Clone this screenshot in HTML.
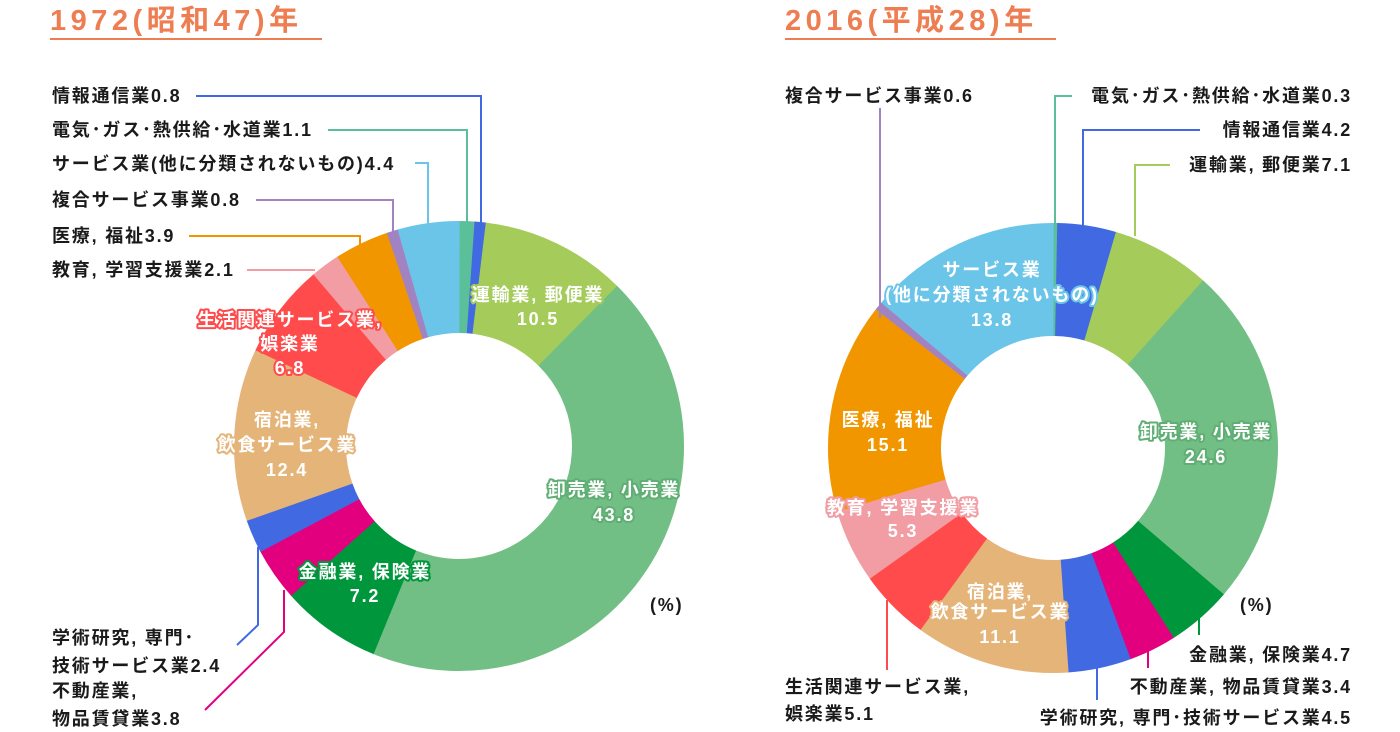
<!DOCTYPE html>
<html><head><meta charset="utf-8">
<style>
html,body{margin:0;padding:0;background:#fff;}
svg{display:block;font-family:"Liberation Sans","Noto Sans CJK JP",sans-serif;font-weight:bold;}
.t{font-size:18px;fill:#1a1a1a;letter-spacing:1.8px;}
.in{font-size:18px;fill:#fff;stroke-width:4px;paint-order:stroke;stroke-linejoin:round;text-anchor:middle;letter-spacing:1.8px;}
.ttl{font-size:29px;fill:#ef7d52;letter-spacing:4.5px;}
</style></head>
<body>
<svg id="s" width="1400" height="732" viewBox="0 0 1400 732">
<text class="ttl" x="50" y="30">1972(昭和47)年</text>
<line x1="50" y1="39" x2="322" y2="39" stroke="#ef7d52" stroke-width="2"/>
<text class="ttl" x="785" y="30">2016(平成28)年</text>
<line x1="785" y1="39" x2="1056" y2="39" stroke="#ef7d52" stroke-width="2"/>
<g id="g1"></g><g id="g2"></g>
<g fill="none" stroke-width="2">
<polyline points="196,96 481,96 481,228" stroke="#4169e1"/>
<polyline points="328,130 467,130 467,226" stroke="#5bbf9a"/>
<polyline points="415,163 428,163 428,224" stroke="#6bc5e8"/>
<polyline points="256,200 393,200 393,232" stroke="#a283c1"/>
<polyline points="189,236 360,236 360,246" stroke="#f29600"/>
<polyline points="247,270 315,270" stroke="#f29ca4"/>
<polyline points="258,547 258,625 237,645" stroke="#4169e1"/>
<polyline points="284,590 284,632 205,710" stroke="#e2007f"/>
<polyline points="880,108 880,318" stroke="#a283c1"/>
<polyline points="1072,96 1055,96 1055,223" stroke="#5bbf9a"/>
<polyline points="1200,130 1083,130 1083,226" stroke="#4169e1"/>
<polyline points="1170,165 1135,165 1135,236" stroke="#a5cc5a"/>
<polyline points="887,600 887,670" stroke="#ff4b4b"/>
<polyline points="1097,668 1097,700" stroke="#4169e1"/>
<polyline points="1148,640 1148,668" stroke="#e2007f"/>
<polyline points="1199,612 1199,635" stroke="#00963c"/>
</g>
<g class="t">
<text x="52" y="102">情報通信業0.8</text>
<text x="52" y="136">電気･ガス･熱供給･水道業1.1</text>
<text x="52" y="170">サービス業(他に分類されないもの)4.4</text>
<text x="52" y="206">複合サービス事業0.8</text>
<text x="52" y="242">医療, 福祉3.9</text>
<text x="52" y="276">教育, 学習支援業2.1</text>
<text x="52" y="644">学術研究, 専門･</text>
<text x="52" y="672">技術サービス業2.4</text>
<text x="52" y="697">不動産業,</text>
<text x="52" y="725">物品賃貸業3.8</text>
<text x="650" y="611">(%)</text>
<text x="785" y="102">複合サービス事業0.6</text>
<text x="1352" y="102" text-anchor="end">電気･ガス･熱供給･水道業0.3</text>
<text x="1352" y="136" text-anchor="end">情報通信業4.2</text>
<text x="1352" y="171" text-anchor="end">運輸業, 郵便業7.1</text>
<text x="1240" y="611">(%)</text>
<text x="1352" y="661" text-anchor="end">金融業, 保険業4.7</text>
<text x="1352" y="693" text-anchor="end">不動産業, 物品賃貸業3.4</text>
<text x="1352" y="724" text-anchor="end">学術研究, 専門･技術サービス業4.5</text>
<text x="785" y="693">生活関連サービス業,</text>
<text x="785" y="720">娯楽業5.1</text>
</g>
<g class="in">
<text x="538" y="301" stroke="#a5cc5a">運輸業, 郵便業</text>
<text x="538" y="325" stroke="#a5cc5a">10.5</text>
<text x="614" y="496" stroke="#5fae74">卸売業, 小売業</text>
<text x="614" y="521" stroke="#5fae74">43.8</text>
<text x="365" y="578" stroke="#00963c">金融業, 保険業</text>
<text x="365" y="602" stroke="#00963c">7.2</text>
<text x="290" y="326" stroke="#ff4b4b">生活関連サービス業,</text>
<text x="290" y="350" stroke="#ff4b4b">娯楽業</text>
<text x="290" y="374" stroke="#ff4b4b">6.8</text>
<text x="287" y="426" stroke="#e5b479">宿泊業,</text>
<text x="287" y="451" stroke="#e5b479">飲食サービス業</text>
<text x="287" y="476" stroke="#e5b479">12.4</text>
<text x="992" y="276" stroke="#6bc5e8">サービス業</text>
<text x="992" y="301" stroke="#6bc5e8">(他に分類されないもの)</text>
<text x="992" y="326" stroke="#6bc5e8">13.8</text>
<text x="888" y="426" stroke="#f29600">医療, 福祉</text>
<text x="888" y="451" stroke="#f29600">15.1</text>
<text x="1206" y="438" stroke="#5fae74">卸売業, 小売業</text>
<text x="1206" y="463" stroke="#5fae74">24.6</text>
<text x="903" y="514" stroke="#f29ca4">教育, 学習支援業</text>
<text x="903" y="537" stroke="#f29ca4">5.3</text>
<text x="1000" y="598" stroke="#e5b479">宿泊業,</text>
<text x="1000" y="618" stroke="#e5b479">飲食サービス業</text>
<text x="1000" y="643" stroke="#e5b479">11.1</text>
</g>
</svg>
<script>
var C={den:"#5bbf9a",jou:"#4169e1",un:"#a5cc5a",oro:"#72bf85",kin:"#00963c",fud:"#e2007f",gak:"#4169e1",shu:"#e5b479",sei:"#ff4b4b",kyo:"#f29ca4",iry:"#f29600",fuk:"#a283c1",sab:"#6bc5e8"};
var ord=["den","jou","un","oro","kin","fud","gak","shu","sei","kyo","iry","fuk","sab"];
function donut(id,cx,cy,R,r,vals){
 var g=document.getElementById(id),tot=0,i;for(i=0;i<vals.length;i++)tot+=vals[i];
 var a=0,h="";
 for(i=0;i<vals.length;i++){
  var a0=a/tot*2*Math.PI,a1=(a+vals[i])/tot*2*Math.PI;a+=vals[i];
  var ae=a1+0.003;
  function p(rr,t){return (cx+rr*Math.sin(t)).toFixed(2)+","+(cy-rr*Math.cos(t)).toFixed(2);}
  var lg=(a1-a0)>Math.PI?1:0;
  h+='<path fill="'+C[ord[i]]+'" d="M'+p(R,a0)+' A'+R+','+R+' 0 '+lg+' 1 '+p(R,ae)+' L'+p(r,ae)+' A'+r+','+r+' 0 '+lg+' 0 '+p(r,a0)+' Z"/>';
 }
 g.innerHTML=h;
}
donut("g1",459,446,225,113,[1.1,0.8,10.5,43.8,7.2,3.8,2.4,12.4,6.8,2.1,3.9,0.8,4.4]);
donut("g2",1053,448,225,112,[0.3,4.2,7.1,24.6,4.7,3.4,4.5,11.1,5.1,5.3,15.1,0.6,13.8]);
</script>
</body></html>
